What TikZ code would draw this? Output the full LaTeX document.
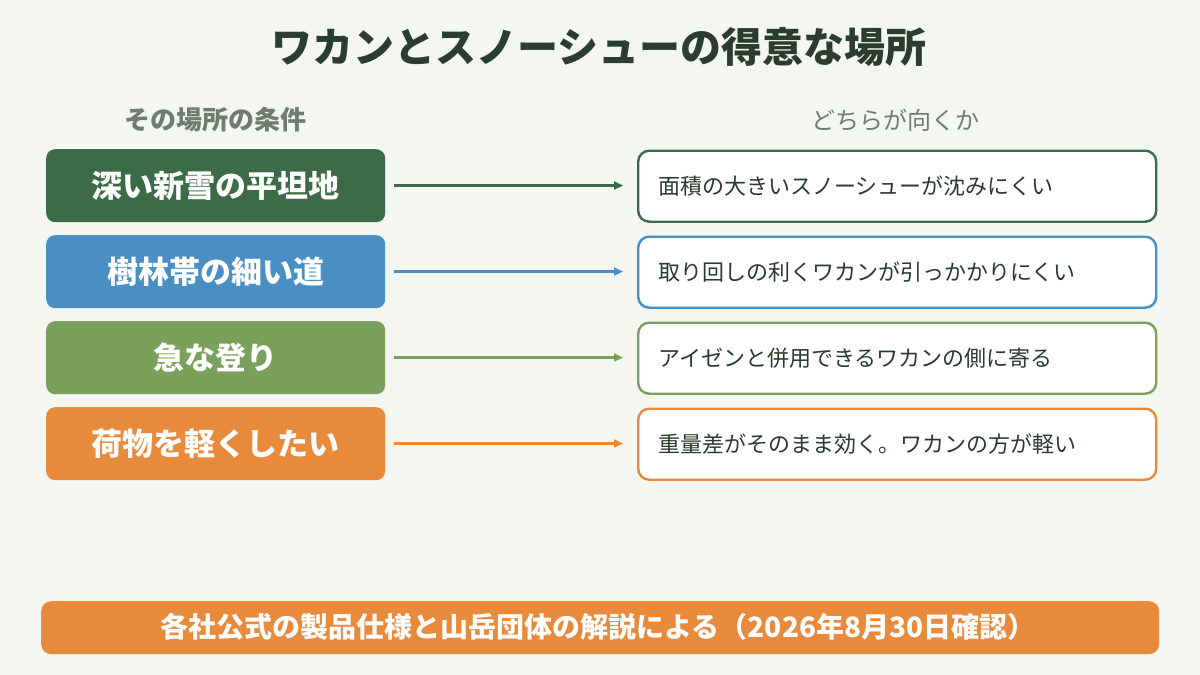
\documentclass[tikz,border=0pt]{standalone}
\usepackage{fontspec}
\setmainfont{Noto Sans CJK JP}
\newfontfamily\jp{Noto Sans CJK JP}
\usetikzlibrary{arrows.meta}
\definecolor{bgc}{HTML}{F4F6F1}
\definecolor{titlec}{HTML}{2B3D2F}
\definecolor{headc}{HTML}{6E7D70}
\definecolor{cA}{HTML}{3D6B47}
\definecolor{cB}{HTML}{4A8FC4}
\definecolor{cC}{HTML}{7BA05B}
\definecolor{cD}{HTML}{E88A3C}
\definecolor{txtc}{HTML}{2B3A2E}
\tikzset{
  x=1pt,y=-1pt,
  condbox/.style={rounded corners=9pt,minimum width=339pt,minimum height=73pt,anchor=north west,inner sep=0pt,text=white,font=\jp\bfseries\fontsize{31}{36}\selectfont},
  resbox/.style={rounded corners=11pt,line width=2.4pt,fill=white,minimum width=518pt,minimum height=71pt,anchor=north west,inner sep=0pt},
  restext/.style={anchor=west,text=txtc,font=\jp\fontsize{22}{26}\selectfont,inner sep=0pt},
  conn/.style={line width=2.2pt,-{Triangle[length=9pt,width=8pt]}},
  head/.style={text=headc,font=\jp\bfseries\fontsize{26}{30}\selectfont},
}
\begin{document}
\begin{tikzpicture}
\fill[bgc] (0,0) rectangle (1200,675);
\useasboundingbox (0,0) rectangle (1200,675);
\node[text=titlec,font=\jp\bfseries\fontsize{41}{48}\selectfont] (title) at (599,47) {ワカンとスノーシューの得意な場所};
\node[head] (hl) at (215,120) {その場所の条件};
\node[head,font=\jp\fontsize{24}{28}\selectfont] (hr) at (895,120) {どちらが向くか};
% left boxes
\node[condbox,fill=cA] (l1) at (46,149) {深い新雪の平坦地};
\node[condbox,fill=cB] (l2) at (46,235) {樹林帯の細い道};
\node[condbox,fill=cC] (l3) at (46,321) {急な登り};
\node[condbox,fill=cD] (l4) at (46,407) {荷物を軽くしたい};
% right boxes
\node[resbox,draw=cA] (r1) at (637,149.5) {};
\node[resbox,draw=cB] (r2) at (637,235.5) {};
\node[resbox,draw=cC] (r3) at (637,321.5) {};
\node[resbox,draw=cD] (r4) at (637,407.5) {};
\node[restext] (t1) at (658,186) {面積の大きいスノーシューが沈みにくい};
\node[restext] (t2) at (658,272) {取り回しの利くワカンが引っかかりにくい};
\node[restext] (t3) at (658,358) {アイゼンと併用できるワカンの側に寄る};
\node[restext] (t4) at (658,444) {重量差がそのまま効く。ワカンの方が軽い};
% connectors
\coordinate (a1) at (394,185.5); \coordinate (a2) at (394,271.5);
\coordinate (a3) at (394,357.5); \coordinate (a4) at (394,443.5);
\coordinate (b1) at (623,185.5); \coordinate (b2) at (623,271.5);
\coordinate (b3) at (623,357.5); \coordinate (b4) at (623,443.5);
\draw[conn,cA] (a1) -- (b1);
\draw[conn,cB] (a2) -- (b2);
\draw[conn,cC] (a3) -- (b3);
\draw[conn,cD] (a4) -- (b4);
% footer
\node[rounded corners=10pt,fill=cD,minimum width=1118pt,minimum height=53pt,anchor=north west,inner sep=0pt] (foot) at (41,601) {};
\node[text=white,font=\jp\bfseries\fontsize{28}{32}\selectfont] (ft) at (598,627) {各社公式の製品仕様と山岳団体の解説による（2026年8月30日確認）};
\end{tikzpicture}
\end{document}
